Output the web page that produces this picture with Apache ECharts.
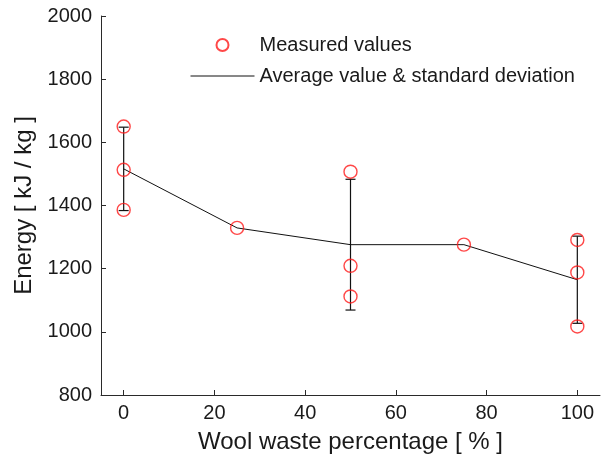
<!DOCTYPE html>
<html>
<head>
<meta charset="utf-8">
<script src="https://cdn.jsdelivr.net/npm/echarts@6/dist/echarts.min.js"></script>
<style>
  html, body { margin: 0; padding: 0; background: #fff; }
  #chart { width: 607px; height: 461px; }
</style>
</head>
<body>
<div id="chart"></div>
<script>
// Individual measurements: [wool waste %, energy kJ/kg]
const measuredX = [0, 0, 0, 25, 50, 50, 50, 75, 100, 100, 100];
const measuredEnergy = [1650, 1513, 1386, 1329, 1507, 1209, 1112, 1276, 1291, 1188, 1017];

// Averages and standard deviations per mixture
const mixPercent = [0, 25, 50, 75, 100];
const meanEnergy = [1516, 1329, 1276, 1276, 1165];
const stdEnergy = [132, 0, 207, 0, 138];

const xTicks = [0, 20, 40, 60, 80, 100];
const yTicks = [800, 1000, 1200, 1400, 1600, 1800, 2000];

const FONT = 'Liberation Sans, Arial, sans-serif';
const INK = '#1a1a1a';
const AXIS = '#2a2a2a';

const scatterData = measuredX.map((x, i) => [x, measuredEnergy[i]]);
const meanData = mixPercent.map((x, i) => [x, meanEnergy[i]]);
const errData = mixPercent
  .map((x, i) => [x, meanEnergy[i] - stdEnergy[i], meanEnergy[i] + stdEnergy[i]])
  .filter((d, i) => stdEnergy[i] > 0);

const chart = echarts.init(document.getElementById('chart'), null, { renderer: 'canvas' });

chart.setOption({
  animation: false,
  backgroundColor: '#fff',
  textStyle: { fontFamily: FONT },
  grid: { left: 101, right: 7, top: 16, bottom: 66, containLabel: false },
  legend: {
    orient: 'vertical',
    left: 190,
    top: 35,
    padding: 0,
    itemWidth: 64,
    itemHeight: 12,
    itemGap: 11,
    textStyle: { fontFamily: FONT, fontSize: 20, color: INK },
    data: [
      { name: 'Measured values' },
      {
        name: 'Average value & standard deviation',
        itemStyle: { color: 'rgba(0,0,0,0)', borderColor: 'rgba(0,0,0,0)', borderWidth: 0 },
        lineStyle: { color: '#111', width: 1, opacity: 1 }
      }
    ]
  },
  xAxis: {
    type: 'value',
    min: -5,
    max: 105,
    splitLine: { show: false },
    axisLine: { onZero: false, lineStyle: { color: AXIS, width: 1 } },
    axisTick: { inside: true, length: 5, customValues: xTicks, lineStyle: { color: AXIS } },
    axisLabel: { customValues: xTicks, fontSize: 20, color: INK, margin: 8, fontFamily: FONT },
    name: 'Wool waste percentage [ % ]',
    nameLocation: 'middle',
    nameGap: 35,
    nameTextStyle: { fontSize: 24, color: INK, fontFamily: FONT }
  },
  yAxis: {
    type: 'value',
    min: yTicks[0],
    max: yTicks[yTicks.length - 1],
    interval: 200,
    splitLine: { show: false },
    axisLine: { show: true, onZero: false, lineStyle: { color: AXIS, width: 1 } },
    axisTick: { show: true, inside: true, length: 5, lineStyle: { color: AXIS } },
    axisLabel: {
      fontSize: 20, color: INK, margin: 9, fontFamily: FONT,
      formatter: v => String(v)
    },
    name: 'Energy [ kJ / kg ]',
    nameLocation: 'middle',
    nameGap: 61,
    nameTextStyle: { fontSize: 24, color: INK, fontFamily: FONT }
  },
  series: [
    {
      name: 'Average value & standard deviation',
      type: 'line',
      data: meanData,
      symbol: 'none',
      showSymbol: false,
      lineStyle: { color: '#111', width: 1 },
      itemStyle: { color: '#111' },
      z: 2
    },
    {
      name: 'std bars',
      type: 'custom',
      data: errData,
      encode: { x: 0, y: [1, 2] },
      z: 2,
      renderItem: function (params, api) {
        const x = api.value(0);
        const lo = api.coord([x, api.value(1)]);
        const hi = api.coord([x, api.value(2)]);
        const half = 5;
        const style = { stroke: '#111', lineWidth: 1.2, fill: null };
        return {
          type: 'group',
          children: [
            { type: 'line', shape: { x1: lo[0], y1: lo[1], x2: hi[0], y2: hi[1] }, style: style },
            { type: 'line', shape: { x1: lo[0] - half, y1: lo[1], x2: lo[0] + half, y2: lo[1] }, style: style },
            { type: 'line', shape: { x1: hi[0] - half, y1: hi[1], x2: hi[0] + half, y2: hi[1] }, style: style }
          ]
        };
      }
    },
    {
      name: 'Measured values',
      type: 'scatter',
      data: scatterData,
      symbol: 'circle',
      symbolSize: 13,
      itemStyle: { color: 'rgba(0,0,0,0)', borderColor: '#ff1a1a', borderWidth: 1.4 },
      z: 3
    }
  ]
});
</script>
</body>
</html>
